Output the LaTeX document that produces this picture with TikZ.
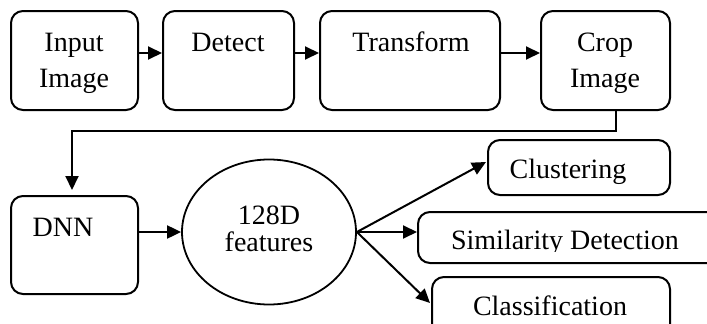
\documentclass[tikz,border=0pt]{standalone}
\usepackage{fontspec}
\setmainfont{Liberation Serif}
\usetikzlibrary{arrows.meta,shapes.geometric}
\begin{document}
\begin{tikzpicture}[x=1pt,y=-1pt,
  box/.style={draw,line width=2pt,rounded corners=12pt,inner sep=0pt},
  oval/.style={draw,ellipse,line width=1.8pt,inner sep=0pt},
  txt/.style={font=\fontsize{28}{36}\selectfont,align=center,inner sep=0pt,anchor=base},
  arr/.style={line width=2pt,-{Triangle[length=14pt,width=13pt]}},
  ln/.style={line width=2pt}]
\useasboundingbox (0,0) rectangle (707,324);
\clip (0,0) rectangle (707,324);
% boxes
\node[box,minimum width=127pt,minimum height=99pt] (in) at (74.5,60.5) {};
\node[box,minimum width=131pt,minimum height=99pt] (det) at (228.5,60.5) {};
\node[box,minimum width=180pt,minimum height=99pt] (tr) at (410,60.5) {};
\node[box,minimum width=129pt,minimum height=99pt] (crop) at (605.5,60.5) {};
\node[box,minimum width=127pt,minimum height=98pt] (dnn) at (74.5,245) {};
\node[oval,minimum width=174pt,minimum height=145pt] (ell) at (269,232) {};
\node[box,minimum width=182pt,minimum height=55pt] (clus) at (579,167.5) {};
\node[box,minimum width=302pt,minimum height=51pt] (sim) at (569,237.5) {};
\node[box,minimum width=238pt,minimum height=62pt] (cls) at (551,308) {};
% texts
\node[txt] (tin1) at (74,51) {Input};
\node[txt] (tin2) at (74,87) {Image};
\node[txt] (tdet) at (228,51) {Detect};
\node[txt] (ttr) at (411,51) {Transform};
\node[txt] (tcr1) at (605,51) {Crop};
\node[txt] (tcr2) at (605,87) {Image};
\node[txt] (tdnn) at (63,236) {DNN};
\node[txt] (t128) at (269,224) {128D};
\node[txt] (tfeat) at (269,251) {features};
\node[txt] (tclus) at (568,178) {Clustering};
\begin{scope}
\clip (418,212) rectangle (707,251);
\node[txt] (tsim) at (565,249) {Similarity Detection};
\end{scope}
\node[txt] (tcls) at (550,315) {Classification};
% connectors
\draw[arr] ([yshift=7.5pt]in.east) -- ([yshift=7.5pt]det.west);
\draw[arr] ([yshift=7.5pt]det.east) -- ([yshift=7.5pt]tr.west);
\draw[arr] ([yshift=7.5pt]tr.east) -- ([yshift=7.5pt]crop.west);
\draw[arr,shorten >=5pt] ([xshift=10.5pt]crop.south) -- ++(0,20) -| ([xshift=-2.5pt]dnn.north);
\draw[arr] ([yshift=13pt]dnn.east) -- (ell.west);
\draw[arr] (ell.east) -- ([yshift=5.5pt,xshift=-1pt]clus.west);
\draw[arr] (ell.east) -- ([yshift=5.5pt]sim.west);
\draw[arr] (ell.east) -- ([yshift=5pt,xshift=-1pt]cls.west);
\end{tikzpicture}
\end{document}
